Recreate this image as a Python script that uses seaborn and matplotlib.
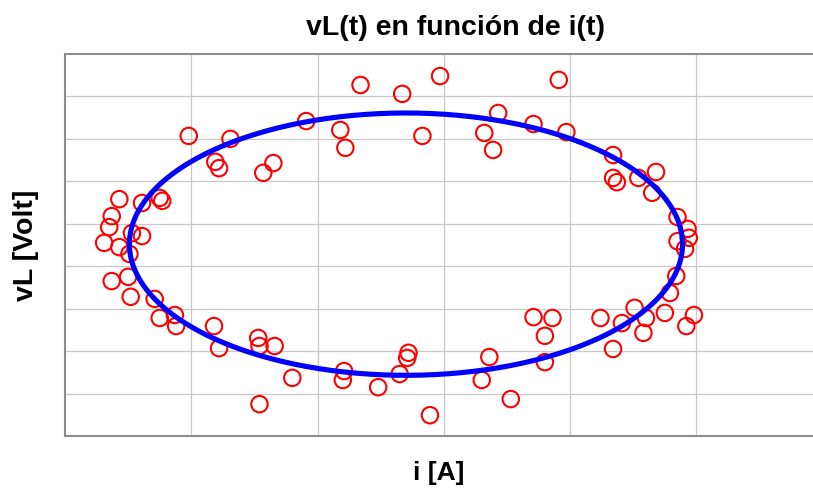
import numpy as np
import pandas as pd
import matplotlib
matplotlib.use("Agg")
import matplotlib.pyplot as plt
import seaborn as sns

# Measured points: current i [A] and voltage vL [Volt] (arbitrary grid units)
i_vals = [-2.02, -1.69, -1.81, -1.78, -1.35, -1.43, -2.57, -2.39, -2.25, -2.23,
          -2.63, -2.65, -2.47, -2.39, -2.69, -2.57, -2.49, -2.63, -2.50, -2.48,
          -2.29, -2.25, -2.13, -2.12, -1.82, -1.78, -1.47, -1.46, -1.34, -1.20,
          -1.46, -0.66, -0.33, -0.03, -1.09, -0.82, -0.78, -0.17, 0.43, 0.32,
          0.39, 0.71, -0.79, -0.80, -0.52, -0.35, -0.28, -0.29, -0.11, 0.36,
          0.30, 0.53, 0.71, 0.80, 0.80, 0.86, 0.91, 0.97, 1.34, 1.34,
          1.37, 1.54, 1.68, 1.65, 1.85, 1.93, 1.94, 1.85, 1.91, 1.84,
          1.79, 1.51, 1.60, 1.75, 1.98, 1.92, 1.41, 1.58, 1.24, 1.34]
vl_vals = [7.07, 7.00, 6.46, 6.31, 6.43, 6.20, 5.58, 5.49, 5.61, 5.54,
           5.18, 4.92, 4.78, 4.71, 4.55, 4.45, 4.29, 3.65, 3.75, 3.28,
           3.23, 2.78, 2.85, 2.59, 2.59, 2.07, 2.31, 2.12, 2.12, 1.37,
           0.75, 8.27, 8.06, 8.48, 7.42, 7.21, 6.79, 7.07, 7.61, 7.14,
           6.74, 7.35, 1.53, 1.32, 1.15, 1.46, 1.96, 1.84, 0.49, 1.86,
           1.32, 0.87, 2.80, 2.36, 1.74, 2.78, 8.39, 7.16, 6.62, 6.08,
           5.98, 6.08, 6.22, 5.73, 5.16, 4.88, 4.67, 4.59, 4.41, 3.77,
           3.37, 3.02, 2.78, 2.90, 2.85, 2.59, 2.66, 2.43, 2.78, 2.05]

# Fitted ellipse parameters
ell_center_i = -0.30
ell_center_v = 4.52
ell_semi_i = 2.19
ell_semi_v = 3.09

df = pd.DataFrame({"i": i_vals, "vL": vl_vals})
t = np.linspace(0, 2 * np.pi, 400)
ell = pd.DataFrame({"i": ell_center_i + ell_semi_i * np.cos(t),
                    "vL": ell_center_v + ell_semi_v * np.sin(t)})

sns.set_theme(style="white")
plt.rcParams['font.family'] = ['Liberation Sans', 'DejaVu Sans']
plt.rcParams['text.color'] = 'black'
plt.rcParams['axes.labelcolor'] = 'black'

W, H = 813, 488
fig = plt.figure(figsize=(W / 100, H / 100), dpi=100)
ax = fig.add_axes([65 / W, 52 / H, (W - 65) / W, 382 / H])

sns.scatterplot(data=df, x="i", y="vL", ax=ax, marker="o", s=140,
                facecolor="none", edgecolor="#ff0000", linewidth=1.5, zorder=3)
sns.lineplot(data=ell, x="i", y="vL", ax=ax, sort=False, estimator=None,
             color="#0000ff", linewidth=3.7, zorder=4)

ax.set_xlim(-3, 2.923)
ax.set_ylim(0, 9)
ax.set_xticks([-2, -1, 0, 1, 2])
ax.set_yticks([1, 2, 3, 4, 5, 6, 7, 8])
ax.tick_params(length=0, labelbottom=False, labelleft=False)
ax.grid(True, color="#c8c8c8", linewidth=0.9)
ax.set_axisbelow(True)
for side in ["left", "top", "bottom"]:
    ax.spines[side].set_color("#8c8c8c")
    ax.spines[side].set_linewidth(1.5)
ax.spines["right"].set_visible(False)

ax.set_xlabel("i [A]", fontsize=19, fontweight="bold", labelpad=18,
              color="black")
ax.set_ylabel("vL [Volt]", fontsize=20.5, fontweight="bold", labelpad=19,
              color="black")
fig.text(455 / W, 1 - 28 / H, "vL(t) en función de i(t)", fontsize=20.5,
         fontweight="bold", ha="center", va="center", color="black")

fig.savefig("out.png", dpi=100)
